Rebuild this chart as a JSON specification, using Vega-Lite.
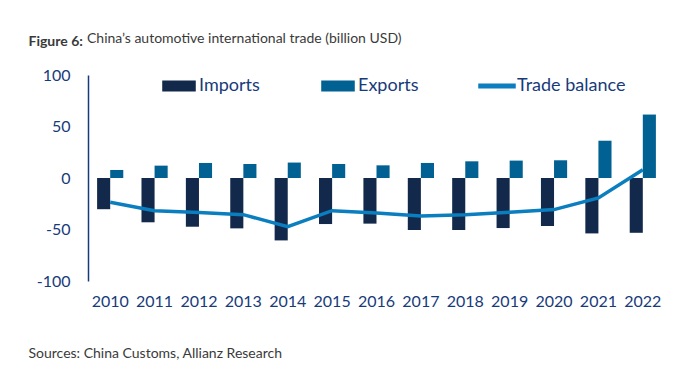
{
  "$schema": "https://vega.github.io/schema/vega-lite/v6.json",
  "width": 577,
  "height": 206,
  "autosize": {"type": "none"},
  "padding": {"left": 88, "top": 75, "right": 29, "bottom": 97},
  "background": "white",
  "config": {
    "view": {"stroke": null},
    "font": "Lato"
  },
  "title": {
    "text": "China’s automotive international trade (billion USD)",
    "anchor": "start",
    "frame": "group",
    "fontSize": 14,
    "fontWeight": "normal",
    "color": "#3a3a3a",
    "offset": 18,
    "dx": -1,
    "dy": 30
  },
  "data": {
    "values": [
      {"year": "2010", "series": "Imports", "value": -30.3},
      {"year": "2011", "series": "Imports", "value": -43.0},
      {"year": "2012", "series": "Imports", "value": -47.3},
      {"year": "2013", "series": "Imports", "value": -48.9},
      {"year": "2014", "series": "Imports", "value": -60.6},
      {"year": "2015", "series": "Imports", "value": -44.7},
      {"year": "2016", "series": "Imports", "value": -44.3},
      {"year": "2017", "series": "Imports", "value": -50.5},
      {"year": "2018", "series": "Imports", "value": -50.5},
      {"year": "2019", "series": "Imports", "value": -48.6},
      {"year": "2020", "series": "Imports", "value": -46.6},
      {"year": "2021", "series": "Imports", "value": -53.8},
      {"year": "2022", "series": "Imports", "value": -53.2},
      {"year": "2010", "series": "Exports", "value": 7.8},
      {"year": "2011", "series": "Exports", "value": 12.0},
      {"year": "2012", "series": "Exports", "value": 14.6},
      {"year": "2013", "series": "Exports", "value": 13.6},
      {"year": "2014", "series": "Exports", "value": 15.0},
      {"year": "2015", "series": "Exports", "value": 13.6},
      {"year": "2016", "series": "Exports", "value": 12.3},
      {"year": "2017", "series": "Exports", "value": 14.6},
      {"year": "2018", "series": "Exports", "value": 16.2},
      {"year": "2019", "series": "Exports", "value": 16.9},
      {"year": "2020", "series": "Exports", "value": 17.2},
      {"year": "2021", "series": "Exports", "value": 36.2},
      {"year": "2022", "series": "Exports", "value": 61.6},
      {"year": "2010", "series": "Trade balance", "value": -23.5},
      {"year": "2011", "series": "Trade balance", "value": -31.7},
      {"year": "2012", "series": "Trade balance", "value": -33.6},
      {"year": "2013", "series": "Trade balance", "value": -35.6},
      {"year": "2014", "series": "Trade balance", "value": -47.3},
      {"year": "2015", "series": "Trade balance", "value": -31.7},
      {"year": "2016", "series": "Trade balance", "value": -33.9},
      {"year": "2017", "series": "Trade balance", "value": -36.9},
      {"year": "2018", "series": "Trade balance", "value": -35.6},
      {"year": "2019", "series": "Trade balance", "value": -33.2},
      {"year": "2020", "series": "Trade balance", "value": -30.7},
      {"year": "2021", "series": "Trade balance", "value": -19.3},
      {"year": "2022", "series": "Trade balance", "value": 8.1}
    ]
  },
  "encoding": {
    "x": {
      "field": "year",
      "type": "ordinal",
      "scale": {"paddingInner": 0.41, "paddingOuter": 0.205},
      "axis": {
        "labelAngle": 0,
        "domain": false,
        "ticks": false,
        "labelFontSize": 16,
        "labelColor": "#173B7A",
        "labelPadding": 12,
        "title": "Sources: China Customs, Allianz Research",
        "titleFontSize": 14,
        "titleFontWeight": "normal",
        "titleColor": "#3a3a3a",
        "titleAlign": "left",
        "titleBaseline": "alphabetic",
        "titleAnchor": "start",
        "titleX": -60,
        "titleY": 76
      }
    }
  },
  "layer": [
    {
      "transform": [{"filter": "datum.series !== 'Trade balance'"}],
      "mark": {"type": "bar"},
      "encoding": {
        "xOffset": {"field": "series", "type": "nominal", "sort": ["Imports", "Exports"], "scale": {"paddingInner": 0, "paddingOuter": 0}},
        "y": {
          "field": "value",
          "type": "quantitative",
          "scale": {"domain": [-100, 100], "nice": false},
          "axis": {
            "values": [-100, -50, 0, 50, 100],
            "labelExpr": "toString(datum.value)",
            "grid": false,
            "ticks": false,
            "domainColor": "#173B7A",
            "domainWidth": 1.5,
            "labelFontSize": 16,
            "labelColor": "#173B7A",
            "labelPadding": 18,
            "title": "Figure 6:",
            "titleAngle": 0,
            "titleFontSize": 14,
            "titleFontWeight": "bold",
            "titleColor": "#3a3a3a",
            "titleAlign": "left",
            "titleBaseline": "alphabetic",
            "titleX": -60,
            "titleY": -30
          }
        },
        "color": {
          "field": "series",
          "type": "nominal",
          "scale": {"domain": ["Imports", "Exports", "Trade balance"], "range": ["#13294B", "#006192", "#0A7EBF"]},
          "legend": {
            "orient": "none",
            "legendX": 72,
            "legendY": -8,
            "direction": "horizontal",
            "title": null,
            "gridAlign": "all",
            "columnPadding": 9,
            "labelFontSize": 18,
            "labelColor": "#173B7A",
            "labelOffset": 1,
            "symbolSize": 1296,
            "symbolOpacity": 1,
            "encode": {
              "symbols": {
                "update": {
                  "shape": {"signal": "datum.value === 'Trade balance' ? 'M-1,-0.1H1V0.1H-1Z' : 'M-0.89,-0.26H0.89V0.26H-0.89Z'"},
                  "fill": {"scale": "color", "field": "value"},
                  "stroke": {"value": "transparent"},
                  "opacity": {"value": 1}
                }
              }
            }
          }
        }
      }
    },
    {
      "mark": {"type": "rule", "color": "#173B7A", "strokeWidth": 1.2},
      "encoding": {"y": {"datum": 0}}
    },
    {
      "transform": [{"filter": "datum.series === 'Trade balance'"}],
      "mark": {"type": "line", "strokeWidth": 3.5},
      "encoding": {
        "y": {"field": "value", "type": "quantitative"},
        "color": {"field": "series", "type": "nominal"}
      }
    }
  ]
}
